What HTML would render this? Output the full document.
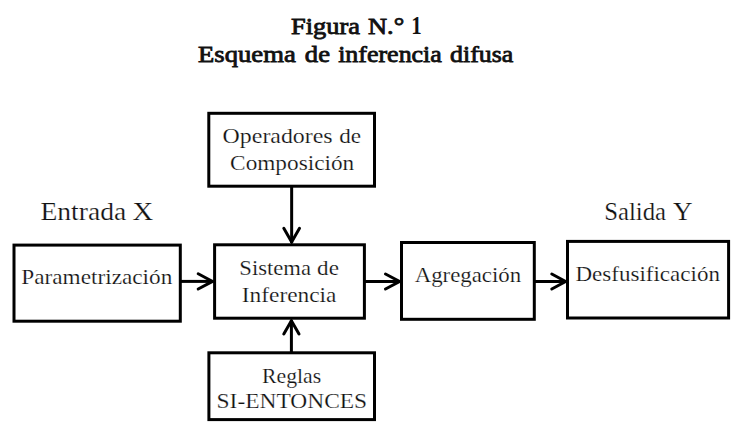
<!DOCTYPE html>
<html><head><meta charset="utf-8">
<style>
html,body{margin:0;padding:0;background:#fff;}
body{width:745px;height:443px;overflow:hidden;}
svg{display:block;}
text{font-family:"Liberation Serif",serif;fill:#111;}
</style></head><body>
<svg width="745" height="443" viewBox="0 0 745 443">
<rect x="0" y="0" width="745" height="443" fill="#fff"/>
<g fill="none" stroke="#000" stroke-width="3">
<rect x="208.8" y="113.3" width="165.7" height="72.9"/>
<rect x="14" y="245.1" width="166.3" height="76.1"/>
<rect x="214.6" y="244.8" width="149.8" height="73.4"/>
<rect x="401.5" y="242.5" width="132.8" height="76.8"/>
<rect x="567.5" y="241.4" width="161.1" height="76.6"/>
<rect x="208.9" y="352.8" width="165.6" height="66.8"/>
</g>
<g fill="none" stroke="#000" stroke-width="3" stroke-linecap="round" stroke-linejoin="miter">
<line x1="291.65" y1="187" x2="291.65" y2="243" stroke-linecap="butt"/>
<polyline points="283.8,228.3 291.65,242 299.5,228.3"/>
<line x1="291.4" y1="320" x2="291.4" y2="352" stroke-linecap="butt"/>
<polyline points="283.8,334 291.4,320.8 299,334"/>
<line x1="181" y1="281.4" x2="213" y2="281.4" stroke-linecap="butt"/>
<polyline points="198.2,273.8 212.5,281.4 198.2,289"/>
<line x1="365" y1="281.45" x2="400" y2="281.45" stroke-linecap="butt"/>
<polyline points="385.5,274 399.6,281.45 385.5,289"/>
<line x1="535" y1="281.5" x2="566" y2="281.5" stroke-linecap="butt"/>
<polyline points="551.8,274 565.6,281.5 551.8,289"/>
</g>

<text x="291.12" y="33.8" font-size="23" textLength="68.88" lengthAdjust="spacingAndGlyphs" stroke="#111" stroke-width="0.8">Figura</text>
<text x="368.06" y="33.8" font-size="23" textLength="36.25" lengthAdjust="spacingAndGlyphs" stroke="#111" stroke-width="0.8">N.°</text>
<text x="411.34" y="33.8" font-weight="bold" font-size="25" textLength="10.47" lengthAdjust="spacingAndGlyphs">1</text>
<text x="198.11" y="62.0" font-size="23" textLength="97.61" lengthAdjust="spacingAndGlyphs" stroke="#111" stroke-width="0.8">Esquema</text>
<text x="304.87" y="62.0" font-size="23" textLength="25.10" lengthAdjust="spacingAndGlyphs" stroke="#111" stroke-width="0.8">de</text>
<text x="338.17" y="62.0" font-size="23" textLength="103.68" lengthAdjust="spacingAndGlyphs" stroke="#111" stroke-width="0.8">inferencia</text>
<text x="450.11" y="62.0" font-size="23" textLength="63.25" lengthAdjust="spacingAndGlyphs" stroke="#111" stroke-width="0.8">difusa</text>
<text x="40.45" y="219.7" font-size="24.5" textLength="85.84" lengthAdjust="spacingAndGlyphs" stroke="#fff" stroke-width="0.2">Entrada</text>
<text x="132.40" y="219.7" font-size="24.5" textLength="20.70" lengthAdjust="spacingAndGlyphs" stroke="#fff" stroke-width="0.2">X</text>
<text x="604.16" y="219.8" font-size="24.5" textLength="61.90" lengthAdjust="spacingAndGlyphs" stroke="#fff" stroke-width="0.2">Salida</text>
<text x="672.90" y="219.8" font-size="24.5" textLength="19.52" lengthAdjust="spacingAndGlyphs" stroke="#fff" stroke-width="0.2">Y</text>
<text x="222.62" y="142.7" font-size="22" textLength="110.03" lengthAdjust="spacingAndGlyphs" stroke="#fff" stroke-width="0.2">Operadores</text>
<text x="339.15" y="142.7" font-size="22" textLength="21.84" lengthAdjust="spacingAndGlyphs" stroke="#fff" stroke-width="0.2">de</text>
<text x="230.11" y="169.6" font-size="22" textLength="124.13" lengthAdjust="spacingAndGlyphs" stroke="#fff" stroke-width="0.2">Composición</text>
<text x="21.31" y="283.7" font-size="22" textLength="151.00" lengthAdjust="spacingAndGlyphs" stroke="#fff" stroke-width="0.2">Parametrización</text>
<text x="239.33" y="274.7" font-size="22" textLength="71.65" lengthAdjust="spacingAndGlyphs" stroke="#fff" stroke-width="0.2">Sistema</text>
<text x="317.13" y="274.7" font-size="22" textLength="21.77" lengthAdjust="spacingAndGlyphs" stroke="#fff" stroke-width="0.2">de</text>
<text x="241.79" y="301.9" font-size="22" textLength="94.68" lengthAdjust="spacingAndGlyphs" stroke="#fff" stroke-width="0.2">Inferencia</text>
<text x="414.66" y="281.8" font-size="22" textLength="106.51" lengthAdjust="spacingAndGlyphs" stroke="#fff" stroke-width="0.2">Agregación</text>
<text x="575.49" y="281.2" font-size="22" textLength="144.46" lengthAdjust="spacingAndGlyphs" stroke="#fff" stroke-width="0.2">Desfusificación</text>
<text x="262.01" y="382.8" font-size="21.5" textLength="59.18" lengthAdjust="spacingAndGlyphs" stroke="#fff" stroke-width="0.2">Reglas</text>
<text x="216.59" y="408.3" font-size="22" textLength="150.59" lengthAdjust="spacingAndGlyphs" stroke="#fff" stroke-width="0.2">SI-ENTONCES</text>
</svg>
</body></html>
